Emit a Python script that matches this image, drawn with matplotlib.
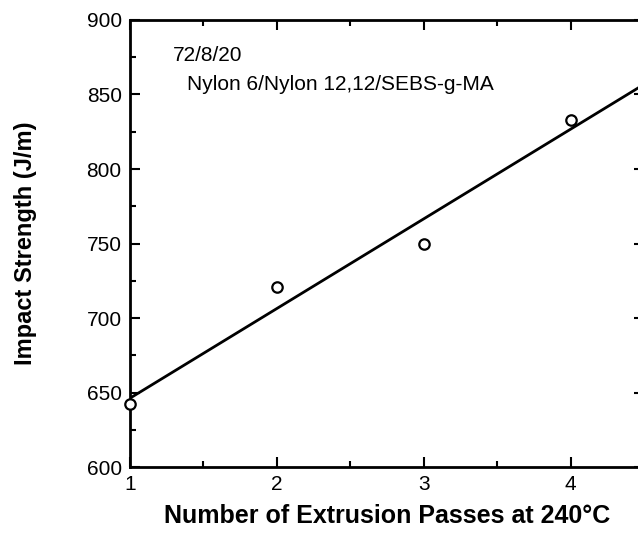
import numpy as np
import matplotlib.pyplot as plt
from matplotlib.ticker import MultipleLocator

passes = [1, 2, 3, 4]
impact = [642, 721, 750, 833]
x_ticks = [1, 2, 3, 4]
y_ticks = [600, 650, 700, 750, 800, 850, 900]

plt.rcParams['font.family'] = ['Liberation Sans', 'DejaVu Sans']


def main():
    fig = plt.figure(figsize=(6.38, 5.36), dpi=100)
    ax = fig.add_axes([0.2038, 0.1287, 0.806, 0.834])

    slope, intercept = np.polyfit(passes, impact, 1)
    xs = np.array([1, 4.5])
    ax.plot(xs, slope * xs + intercept, color='black', linewidth=2, zorder=2)
    ax.plot(passes, impact, 'o', markersize=7.5, markerfacecolor='white',
            markeredgecolor='black', markeredgewidth=1.6, clip_on=False, zorder=3)

    ax.set_xlim(1, 4.5)
    ax.set_ylim(600, 900)
    ax.set_xticks(x_ticks)
    ax.set_yticks(y_ticks)
    ax.xaxis.set_minor_locator(MultipleLocator(0.5))
    ax.yaxis.set_minor_locator(MultipleLocator(25))
    ax.tick_params(which='both', direction='in', top=True, right=True,
                   labelsize=15, width=1.5)
    ax.tick_params(which='major', length=7, pad=6)
    ax.tick_params(which='minor', length=4)
    for s in ax.spines.values():
        s.set_linewidth(2)

    ax.set_xlabel('Number of Extrusion Passes at 240°C', fontsize=18,
                  fontweight='bold', labelpad=7)
    ax.set_ylabel('Impact Strength (J/m)', fontsize=17, fontweight='bold',
                  labelpad=36)

    ax.text(1.29, 876, '72/8/20', fontsize=15, va='center')
    ax.text(1.39, 857, 'Nylon 6/Nylon 12,12/SEBS-g-MA', fontsize=15, va='center')

    fig.savefig('out.png', dpi=100)


if __name__ == '__main__':
    main()
